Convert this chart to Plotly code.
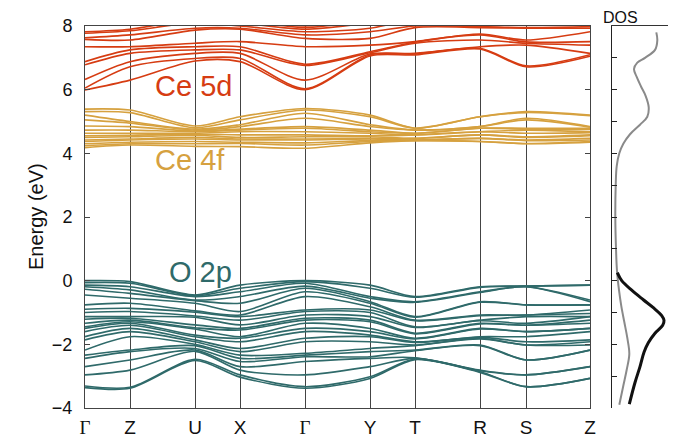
import plotly.graph_objects as go

# high-symmetry path (positions along k-path, arbitrary length units)
k_labels = ["Γ", "Z", "U", "X", "Γ", "Y", "T", "R", "S", "Z"]
k_pos = [0, 45, 110, 155, 220, 285, 330, 395, 441, 505]

# energies (eV) at each k-point, sorted from high to low
o2p_levels = [
    [0.00, -0.06, -0.14, -0.19, -0.27, -0.45, -0.76, -0.90, -1.00, -1.13, -1.21, -1.34, -1.45, -1.50, -1.60, -1.76, -1.86, -2.18, -2.34, -2.44, -2.70, -2.96, -3.31, -3.36],
    [-0.03, -0.08, -0.19, -0.29, -0.40, -0.55, -0.71, -0.87, -0.97, -1.13, -1.18, -1.24, -1.29, -1.34, -1.40, -1.50, -1.60, -1.76, -2.18, -2.23, -2.49, -2.81, -3.35, -3.38],
    [-0.45, -0.47, -0.50, -0.61, -0.63, -0.71, -0.95, -0.99, -1.11, -1.15, -1.39, -1.48, -1.52, -1.71, -1.76, -1.86, -1.92, -2.00, -2.04, -2.13, -2.18, -2.22, -2.47, -2.51],
    [-0.14, -0.24, -0.35, -0.50, -0.71, -0.97, -1.08, -1.13, -1.24, -1.39, -1.50, -1.55, -1.76, -1.81, -1.92, -2.13, -2.23, -2.34, -2.44, -2.54, -2.70, -2.81, -2.96, -3.03],
    [0.00, -0.03, -0.08, -0.17, -0.24, -0.35, -0.50, -0.92, -0.97, -1.08, -1.18, -1.24, -1.34, -1.50, -1.60, -1.81, -1.92, -2.28, -2.34, -2.39, -2.54, -2.96, -3.33, -3.38],
    [-0.14, -0.24, -0.50, -0.55, -0.66, -0.71, -0.82, -0.92, -1.00, -1.13, -1.24, -1.29, -1.50, -1.60, -1.71, -1.76, -1.92, -2.13, -2.23, -2.39, -2.44, -2.70, -3.02, -3.07],
    [-0.50, -0.52, -0.66, -0.68, -1.13, -1.15, -1.24, -1.26, -1.45, -1.47, -1.65, -1.67, -1.81, -1.83, -1.92, -1.94, -2.02, -2.04, -2.18, -2.20, -2.42, -2.44, -2.46, -2.48],
    [-0.19, -0.21, -0.35, -0.37, -0.66, -0.68, -1.08, -1.10, -1.24, -1.26, -1.34, -1.36, -1.50, -1.52, -1.76, -1.78, -1.81, -1.83, -2.02, -2.04, -2.81, -2.83, -2.86, -2.88],
    [-0.17, -0.17, -0.19, -0.19, -0.76, -0.76, -1.08, -1.08, -1.13, -1.34, -1.40, -1.40, -1.60, -1.60, -1.76, -1.92, -2.02, -2.02, -2.49, -2.49, -2.96, -2.96, -3.33, -3.33],
    [-0.14, -0.14, -0.61, -0.66, -0.76, -0.76, -0.92, -1.03, -1.13, -1.13, -1.24, -1.34, -1.50, -1.50, -1.60, -1.86, -1.92, -2.02, -2.18, -2.18, -2.70, -2.70, -3.07, -3.07],
]

ce4f_levels = [
    [5.39, 5.31, 5.20, 5.05, 4.86, 4.73, 4.63, 4.55, 4.50, 4.42, 4.37, 4.30, 4.24, 4.18],
    [5.36, 5.28, 5.00, 4.95, 4.84, 4.73, 4.63, 4.57, 4.52, 4.45, 4.42, 4.35, 4.30, 4.26],
    [4.86, 4.80, 4.76, 4.73, 4.70, 4.68, 4.63, 4.60, 4.57, 4.50, 4.45, 4.37, 4.30, 4.22],
    [5.15, 5.05, 4.90, 4.84, 4.76, 4.73, 4.68, 4.58, 4.50, 4.45, 4.42, 4.35, 4.31, 4.21],
    [5.41, 5.36, 5.26, 5.10, 4.84, 4.79, 4.68, 4.58, 4.52, 4.45, 4.42, 4.33, 4.26, 4.16],
    [5.20, 5.15, 4.90, 4.84, 4.73, 4.68, 4.63, 4.55, 4.52, 4.47, 4.45, 4.40, 4.37, 4.33],
    [4.79, 4.79, 4.73, 4.73, 4.63, 4.63, 4.58, 4.58, 4.47, 4.47, 4.42, 4.42, 4.40, 4.40],
    [5.15, 5.15, 4.84, 4.84, 4.79, 4.79, 4.68, 4.68, 4.58, 4.58, 4.47, 4.47, 4.37, 4.37],
    [5.31, 5.28, 5.10, 5.05, 4.79, 4.76, 4.73, 4.63, 4.52, 4.50, 4.42, 4.40, 4.31, 4.30],
    [5.20, 5.18, 4.84, 4.82, 4.79, 4.75, 4.68, 4.65, 4.58, 4.55, 4.47, 4.42, 4.37, 4.35],
]

ce5d_levels = [
    [8.30, 8.10, 7.82, 7.77, 7.63, 7.58, 7.35, 6.88, 6.78, 6.32, 6.05, 5.99],
    [8.30, 8.10, 7.90, 7.85, 7.72, 7.56, 7.35, 7.25, 7.14, 6.88, 6.72, 6.30],
    [8.40, 8.30, 8.20, 8.10, 7.93, 7.87, 7.46, 7.35, 7.25, 7.14, 6.98, 6.90],
    [8.30, 8.20, 8.10, 8.00, 7.93, 7.90, 7.51, 7.35, 7.25, 7.14, 6.98, 6.88],
    [8.00, 7.95, 7.90, 7.82, 7.72, 7.61, 7.35, 6.80, 6.76, 6.30, 6.03, 6.00],
    [8.30, 8.20, 8.10, 7.93, 7.82, 7.61, 7.40, 7.19, 7.16, 7.12, 7.09, 7.06],
    [8.50, 8.40, 8.30, 8.20, 8.00, 7.95, 7.51, 7.49, 7.46, 7.14, 7.12, 7.09],
    [8.40, 8.30, 8.20, 8.10, 7.98, 7.95, 7.75, 7.72, 7.56, 7.35, 7.30, 7.28],
    [8.40, 8.30, 8.20, 8.10, 7.95, 7.93, 7.56, 7.50, 7.46, 7.40, 6.75, 6.72],
    [8.40, 8.30, 8.20, 8.10, 7.98, 7.93, 7.82, 7.51, 7.40, 7.14, 7.10, 7.05],
]

# density of states (arbitrary units)
dos_ce_energy = [7.80, 7.55, 7.25, 7.00, 6.85, 6.65, 6.40, 6.10, 5.80, 5.45, 5.15, 4.90, 4.60, 4.30,
                 4.00, 3.60, 3.00, 2.00, 1.00, 0.30, -0.30, -0.80, -1.30, -1.80, -2.30, -2.80, -3.30, -3.90]
dos_ce_value = [44.3, 45.3, 43.0, 33.0, 25.3, 22.0, 24.7, 29.0, 33.7, 36.7, 35.3, 28.0, 18.0, 11.3,
                7.3, 4.7, 3.7, 3.3, 4.0, 5.0, 7.0, 9.3, 12.3, 15.3, 17.3, 14.7, 11.3, 7.3]
dos_o_energy = [0.25, 0.00, -0.30, -0.60, -0.85, -1.10, -1.25, -1.40, -1.65, -1.95, -2.25, -2.70, -3.20, -3.88]
dos_o_value = [5.3, 9.7, 19.7, 31.3, 41.3, 49.7, 52.0, 50.7, 43.0, 36.3, 32.0, 28.0, 23.0, 17.3]

C_5D = "#d63c12"
C_4F = "#d6a13f"
C_2P = "#2f6a6a"
FONT = "Liberation Sans, Arial, Helvetica, sans-serif"

fig = go.Figure()


def add_bands(levels, color):
    nb = len(levels[0])
    for b in range(nb):
        fig.add_trace(go.Scatter(
            x=k_pos, y=[row[b] for row in levels], mode="lines",
            line=dict(color=color, width=1.6, shape="spline", smoothing=0.8),
            showlegend=False, hoverinfo="skip", xaxis="x", yaxis="y"))


add_bands(o2p_levels, C_2P)
add_bands(ce4f_levels, C_4F)
add_bands(ce5d_levels, C_5D)

fig.add_trace(go.Scatter(x=dos_ce_value, y=dos_ce_energy, mode="lines",
                         line=dict(color="#8a8a8a", width=2, shape="spline"),
                         showlegend=False, hoverinfo="skip", xaxis="x2", yaxis="y2"))
fig.add_trace(go.Scatter(x=dos_o_value, y=dos_o_energy, mode="lines",
                         line=dict(color="#111111", width=3, shape="spline"),
                         showlegend=False, hoverinfo="skip", xaxis="x2", yaxis="y2"))

tick_text = [f'<span style="font-family:Liberation Serif">{t}</span>' if t == "Γ" else t for t in k_labels]

fig.update_layout(
    width=674, height=438,
    margin=dict(l=85, r=2, t=26, b=30, autoexpand=False),
    paper_bgcolor="white", plot_bgcolor="white",
    font=dict(family=FONT, color="#111"),
    xaxis=dict(domain=[0, 0.8603], range=[k_pos[0], k_pos[-1]], automargin=False,
               tickmode="array", tickvals=k_pos, ticktext=tick_text,
               tickfont=dict(size=19, color="#111"), ticks="", ticklen=0,
               showgrid=True, gridcolor="#444", gridwidth=1,
               showline=True, linecolor="#444", linewidth=1, mirror=True,
               zeroline=False, ticklabelstandoff=2),
    yaxis=dict(domain=[0, 1], range=[-4, 8], dtick=2, tick0=0, automargin=False,
               ticks="inside", ticklen=5, tickcolor="#444",
               tickfont=dict(size=18, color="#111"),
               showgrid=False, zeroline=False,
               showline=True, linecolor="#444", linewidth=1, mirror="ticks",
               ticklabelstandoff=8),
    xaxis2=dict(domain=[0.8978, 0.9932], range=[0, 56], anchor="y2", side="top",
                automargin=False,
                showline=True, linecolor="#333", linewidth=1.2,
                showticklabels=False, ticks="", showgrid=False, zeroline=False),
    yaxis2=dict(domain=[0, 1], range=[-4, 8], anchor="x2", dtick=1, automargin=False,
                ticks="inside", ticklen=5, tickcolor="#222",
                showticklabels=False, showgrid=False, zeroline=False,
                showline=True, linecolor="#222", linewidth=1),
)

fig.add_annotation(text="Ce 5d", x=108, y=6.1, xref="x", yref="y", showarrow=False,
                   font=dict(size=29, color=C_5D, family=FONT))
fig.add_annotation(text="Ce 4f", x=105, y=3.79, xref="x", yref="y", showarrow=False,
                   font=dict(size=29, color=C_4F, family=FONT))
fig.add_annotation(text="O 2p", x=115, y=0.27, xref="x", yref="y", showarrow=False,
                   font=dict(size=29, color=C_2P, family=FONT))
fig.add_annotation(text="Energy (eV)", x=-0.1056, y=0.5, xref="paper", yref="paper",
                   textangle=-90, showarrow=False, font=dict(size=20, color="#111", family=FONT))
fig.add_annotation(text="DOS", x=0.9455, y=1.0, yanchor="bottom", yshift=-2,
                   xref="paper", yref="paper",
                   showarrow=False, font=dict(size=16, color="#111", family=FONT))

fig.write_html("out.html", config={"displayModeBar": False},
               post_script="document.body.style.margin='0';document.body.style.padding='0';")
